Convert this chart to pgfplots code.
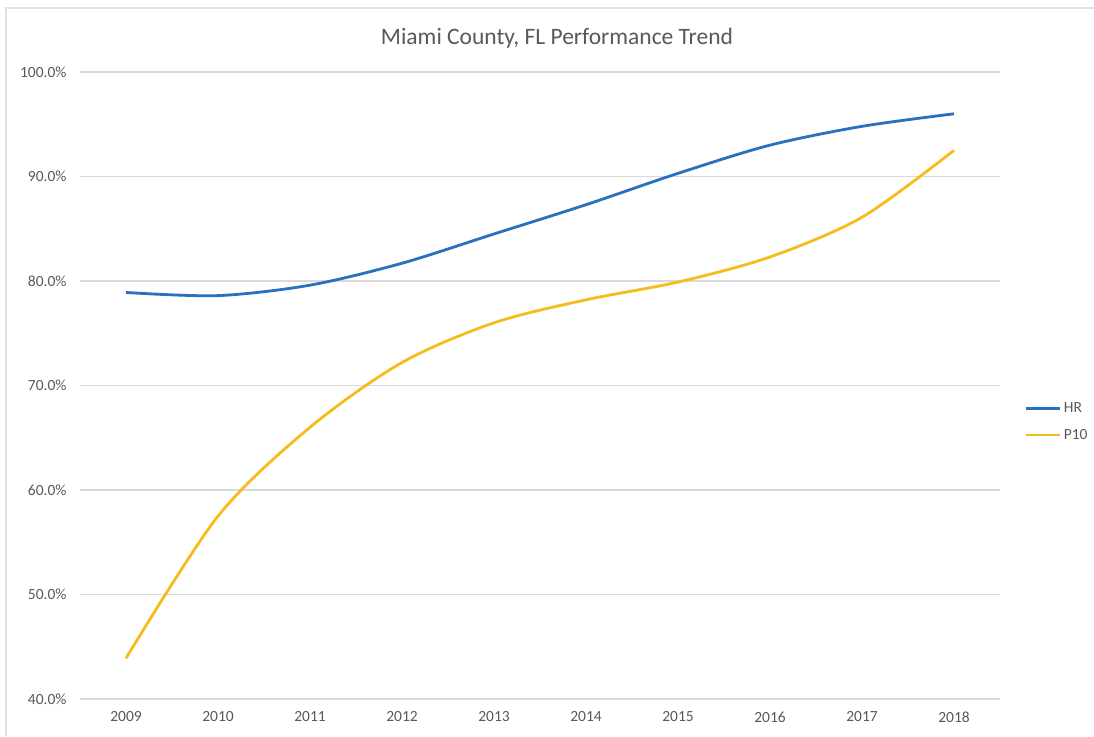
\documentclass[border=0pt]{standalone}
\usepackage{pgfplots}
\pgfplotsset{compat=1.18}
\usepackage{fontspec}
\setmainfont{Carlito}
\definecolor{hrblue}{HTML}{2771BF}
\definecolor{pgold}{HTML}{F5BC1C}
\definecolor{gridgray}{HTML}{D9D9D9}
\definecolor{txtgray}{HTML}{595959}
\begin{document}
\begin{tikzpicture}[x=1pt,y=1pt]
\useasboundingbox (0,0) rectangle (1094,736);
\fill[white] (0,0) rectangle (1094,736);
\draw[gridgray!80, line width=1.5pt] (6,0) -- (6,728) -- (1094,728);
\begin{axis}[
  at={(80pt,37pt)}, anchor=south west,
  scale only axis, width=920pt, height=627pt,
  xmin=-0.5, xmax=9.5, ymin=40, ymax=100,
  xtick={0,...,9},
  xticklabels={2009,2010,2011,2012,2013,2014,2015,2016,2017,2018},
  ytick={40,50,...,100},
  yticklabel={\pgfmathprintnumber[fixed,fixed zerofill,precision=1]{\tick}\%},
  /pgf/number format/assume math mode=true,
  ymajorgrids, grid style={gridgray, line width=1.3pt},
  axis line style={draw=none},
  major tick length=0pt,
  tick label style={font=\fontsize{15.5}{17}\selectfont, text=txtgray},
  yticklabel style={xshift=-10pt},
  xticklabel style={yshift=-9pt},
  legend style={draw=none, fill=none, at={(1.027,0.442)}, anchor=west,
    font=\fontsize{15.5}{17}\selectfont, text=txtgray, row sep=11pt, inner sep=0pt},
  legend cell align=left,
  legend image code/.code={\draw[#1] (0pt,0pt) -- (34pt,0pt);},
]
\addplot[hrblue, line width=2.8pt, smooth] coordinates {
  (0,78.9) (1,78.6) (2,79.6) (3,81.7) (4,84.5) (5,87.3) (6,90.3) (7,93.0) (8,94.8) (9,96.0)};
\addlegendentry{HR}
\addplot[pgold, line width=2.8pt, smooth] coordinates {
  (0,43.9) (1,57.5) (2,66.0) (3,72.2) (4,76.0) (5,78.2) (6,79.9) (7,82.3) (8,86.1) (9,92.5)};
\addlegendentry{P10}
\end{axis}
\node[font=\fontsize{23.5}{25}\selectfont, text=txtgray] at (557,698) {Miami County, FL Performance Trend};
\end{tikzpicture}
\end{document}
